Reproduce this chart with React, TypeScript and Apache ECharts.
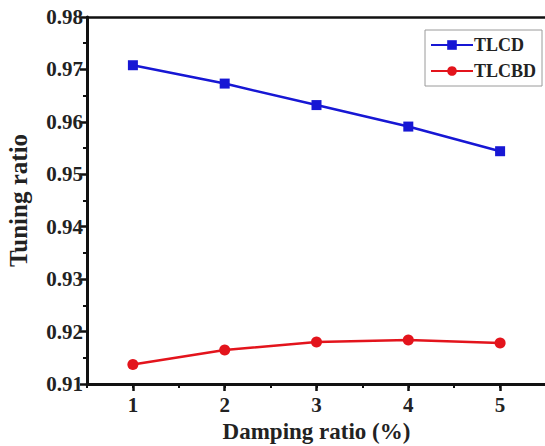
import React, { useEffect, useRef } from "react";
import * as echarts from "echarts";

const dampingRatios = [1, 2, 3, 4, 5];
const tlcd = [0.9708, 0.9673, 0.9632, 0.9591, 0.9544];
const tlcbd = [0.9137, 0.9165, 0.918, 0.9184, 0.9178];
const seriesNames = ["TLCD", "TLCBD"];

const FONT = "'Liberation Serif', 'Times New Roman', serif";

export default function App() {
  const ref = useRef<HTMLDivElement>(null);
  useEffect(() => {
    document.body.style.margin = "0";
    document.body.style.overflow = "hidden";
    const chart = echarts.init(ref.current!, null, { renderer: "svg" });
    const toPairs = (arr: number[]) => arr.map((v, i) => [dampingRatios[i], v]);
    chart.setOption({
      animation: false,
      backgroundColor: "#fff",
      grid: { left: 87, top: 17, width: 459, height: 367, show: false, outerBoundsMode: "none", containLabel: false },
      legend: {
        orient: "vertical",
        left: 425,
        top: 30,
        width: 112,
        padding: [6, 6, 6, 5],
        itemGap: 8,
        itemWidth: 42,
        itemHeight: 12,
        borderColor: "#9a9a9a",
        borderWidth: 1,
        data: seriesNames,
        textStyle: { fontFamily: FONT, fontWeight: "bold", fontSize: 18, color: "#222", padding: [0, 0, 0, -4] },
      },
      xAxis: [
        {
          type: "value",
          min: 0.5,
          max: 5.5,
          interval: 0.5,
          position: "bottom",
          axisLine: { show: true, lineStyle: { color: "#111", width: 3 } },
          axisTick: { show: true, length: 4, lineStyle: { color: "#111", width: 2 } },
          axisLabel: { show: false },
          splitLine: { show: false },
        },
        {
          type: "value",
          min: 0.5,
          max: 5.5,
          position: "bottom",
          offset: 0,
          axisLine: { show: false },
          axisTick: { show: true, length: 7, customValues: dampingRatios, lineStyle: { color: "#111", width: 2.5 } },
          axisLabel: {
            show: true,
            customValues: dampingRatios,
            margin: 10,
            fontFamily: FONT,
            fontWeight: "bold",
            fontSize: 21,
            color: "#222",
          },
          splitLine: { show: false },
          name: "Damping ratio (%)",
          nameLocation: "middle",
          nameGap: 35,
          nameTextStyle: { fontFamily: FONT, fontWeight: "bold", fontSize: 23, color: "#222" },
        },
        {
          type: "value",
          min: 0.5,
          max: 5.5,
          position: "top",
          offset: 0,
          axisLine: { show: true, lineStyle: { color: "#111", width: 2.5 } },
          axisTick: { show: false },
          axisLabel: { show: false },
          splitLine: { show: false },
        },
      ],
      yAxis: {
        type: "value",
        min: 0.91,
        max: 0.98,
        interval: 0.01,
        axisLine: { show: true, lineStyle: { color: "#111", width: 3 } },
        axisTick: { show: true, length: 7, lineStyle: { color: "#111", width: 2.5 } },
        minorTick: { show: true, splitNumber: 2, length: 4, lineStyle: { color: "#111", width: 2 } },
        splitLine: { show: false },
        axisLabel: {
          margin: 4,
          fontFamily: FONT,
          fontWeight: "bold",
          fontSize: 21,
          color: "#222",
          formatter: (v: number) => v.toFixed(2),
        },
        name: "Tuning ratio",
        nameLocation: "middle",
        nameGap: 56,
        nameTextStyle: { fontFamily: FONT, fontWeight: "bold", fontSize: 25, color: "#222" },
      },
      series: [
        {
          name: seriesNames[0],
          type: "line",
          xAxisIndex: 0,
          data: toPairs(tlcd),
          symbol: "rect",
          symbolSize: 10,
          color: "#1717d4",
          lineStyle: { width: 2.5, color: "#1717d4" },
          itemStyle: { color: "#1717d4" },
        },
        {
          name: seriesNames[1],
          type: "line",
          xAxisIndex: 0,
          data: toPairs(tlcbd),
          symbol: "circle",
          symbolSize: 11,
          color: "#e3141c",
          lineStyle: { width: 2.5, color: "#e3141c" },
          itemStyle: { color: "#e3141c" },
        },
      ],
    });
    return () => chart.dispose();
  }, []);
  return <div ref={ref} style={{ width: 545, height: 446 }} />;
}
